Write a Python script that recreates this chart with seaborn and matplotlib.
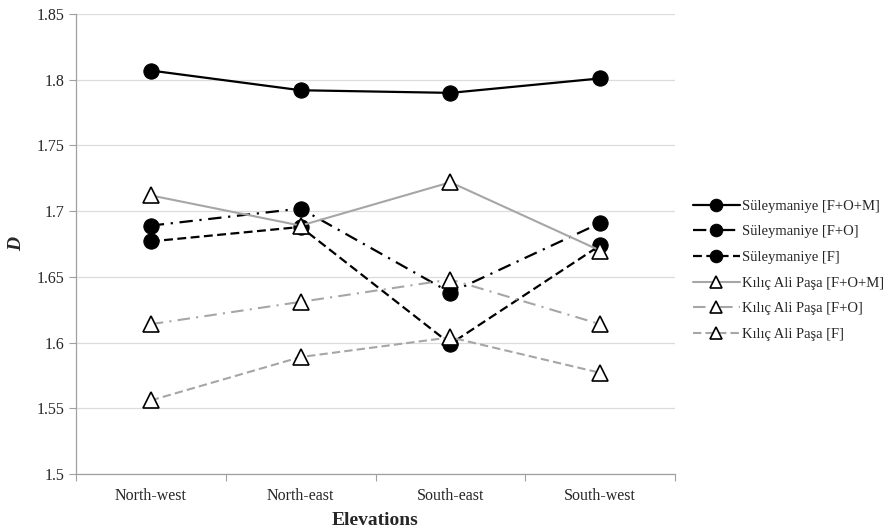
import matplotlib
matplotlib.use("Agg")
import matplotlib.pyplot as plt
import seaborn as sns
import pandas as pd
import numpy as np

elevations = ["North-west", "North-east", "South-east", "South-west"]
series_names = [
    "Süleymaniye [F+O+M]",
    "Süleymaniye [F+O]",
    "Süleymaniye [F]",
    "Kılıç Ali Paşa [F+O+M]",
    "Kılıç Ali Paşa [F+O]",
    "Kılıç Ali Paşa [F]",
]
sul_fom = [1.807, 1.792, 1.790, 1.801]
sul_fo = [1.689, 1.702, 1.638, 1.691]
sul_f = [1.677, 1.688, 1.599, 1.674]
kap_fom = [1.712, 1.689, 1.722, 1.670]
kap_fo = [1.614, 1.631, 1.648, 1.614]
kap_f = [1.556, 1.589, 1.604, 1.577]
values = [sul_fom, sul_fo, sul_f, kap_fom, kap_fo, kap_f]

sns.set_theme(style="white")
plt.rcParams["font.family"] = ["Liberation Serif", "DejaVu Serif"]

colors = ["black", "black", "black", "#a6a6a6", "#a6a6a6", "#a6a6a6"]
dashes = ["-", (0, (6, 3, 1, 3)), (0, (4, 2)), "-", (0, (6, 3, 1, 3)), (0, (4, 2))]
markers = ["o", "o", "o", "^", "^", "^"]

fig = plt.figure(figsize=(8.93, 5.31), dpi=100)
ax = fig.add_axes([0.085, 0.1073, 0.671, 0.8663])

for name, vals, c, ls, m in zip(series_names, values, colors, dashes, markers):
    df = pd.DataFrame({"Elevation": elevations, "D": vals})
    if m == "o":
        mk = dict(marker="o", markersize=11, markerfacecolor="black",
                  markeredgecolor="black")
    else:
        mk = dict(marker="^", markersize=11, markerfacecolor="white",
                  markeredgecolor="black", markeredgewidth=1.2)
    sns.lineplot(data=df, x="Elevation", y="D", ax=ax, color=c,
                 linestyle=ls, linewidth=1.6 if c == "black" else 1.5,
                 label=name, sort=False, **mk)

ax.set_ylim(1.5, 1.85)
ax.set_yticks(np.arange(1.5, 1.851, 0.05))
ax.set_yticklabels(["1.5", "1.55", "1.6", "1.65", "1.7", "1.75", "1.8", "1.85"])
ax.set_xlim(-0.5, 3.5)
ax.set_xticks(range(len(elevations)))
ax.set_xticklabels(elevations)
ax.set_xticks(np.arange(-0.5, 3.6, 1.0), minor=True)
ax.tick_params(axis="x", which="major", length=0, labelsize=11.5, pad=10)
ax.tick_params(axis="x", which="minor", length=5, color="#a0a0a0", width=0.8, direction="out", bottom=True)
ax.tick_params(axis="y", which="major", length=5, color="#a0a0a0", width=0.8, direction="out", left=True, labelsize=11.5)

ax.grid(axis="y", color="#dcdcdc", linewidth=0.9)
ax.set_axisbelow(True)
for s in ["top", "right"]:
    ax.spines[s].set_visible(False)
for s in ["left", "bottom"]:
    ax.spines[s].set_color("#a0a0a0")
    ax.spines[s].set_linewidth(0.9)

ax.set_xlabel("Elevations", fontsize=14, fontweight="bold", labelpad=6)
ax.set_ylabel("D", fontsize=14, fontweight="bold", style="italic", labelpad=8)

leg = ax.legend(loc="center left", bbox_to_anchor=(1.02, 0.443), frameon=False,
                fontsize=10.5, handlelength=3.2, handletextpad=0.15,
                labelspacing=0.85, borderaxespad=0)
for h in leg.legend_handles:
    h.set_markersize(9)

fig.savefig("out.png", dpi=100)
